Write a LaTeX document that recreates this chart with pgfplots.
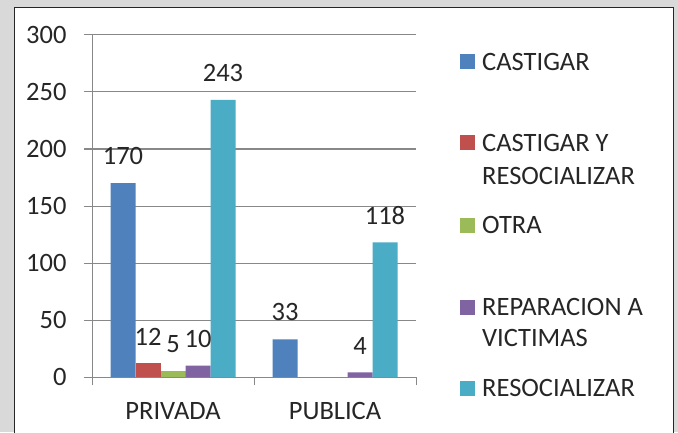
\documentclass[border=0pt]{standalone}
\usepackage{fontspec}
\setmainfont{Carlito}
\usepackage{pgfplots}
\pgfplotsset{compat=1.18}
\definecolor{cBlue}{HTML}{4F81BD}
\definecolor{cRed}{HTML}{C0504D}
\definecolor{cGreen}{HTML}{9BBB59}
\definecolor{cPurple}{HTML}{8064A2}
\definecolor{cCyan}{HTML}{4BACC6}
\definecolor{bggrey}{HTML}{D9D9D9}
\definecolor{axgrey}{HTML}{888888}
\definecolor{txt}{HTML}{262626}
\newcommand\bigf{\fontsize{26.5}{33}\selectfont}
\begin{document}
\begin{tikzpicture}
\useasboundingbox (0pt,0pt) rectangle (678pt,432pt);
\fill[bggrey] (0pt,0pt) rectangle (678pt,432pt);
\filldraw[fill=white, draw=black!85, line width=1pt] (14pt,-10pt) rectangle (673pt,424pt);
\begin{axis}[
  at={(92pt,55pt)}, anchor=south west,
  scale only axis, width=324pt, height=342pt,
  xmin=-0.5, xmax=1.5, ymin=0, ymax=300,
  ybar=0pt, bar width=25pt,
  /pgf/number format/assume math mode=true,
  axis x line*=bottom, axis y line*=left,
  axis line style={draw=axgrey, line width=1pt, -},
  ytick={0,50,...,300},
  ymajorgrids, major grid style={draw=axgrey, line width=1pt},
  tick align=outside, major tick length=8pt,
  ytick style={draw=axgrey, line width=1pt},
  xtick={-0.5,0.5,1.5}, xticklabels={},
  xtick style={draw=axgrey, line width=1pt},
  extra x ticks={0,1}, extra x tick labels={PRIVADA,PUBLICA},
  extra x tick style={major tick length=0pt, grid=none},
  tick label style={font=\bigf, text=txt},
  xticklabel style={yshift=-22pt},
  yticklabel style={xshift=-14pt},
  nodes near coords,
  every node near coord/.append style={font=\bigf, text=txt, anchor=south, inner sep=0pt, yshift=18pt},
]
\addplot[fill=cBlue, draw=none] coordinates {(0,170) (1,33)};
\addplot[fill=cRed, draw=none] coordinates {(0,12)};
\addplot[fill=cGreen, draw=none] coordinates {(0,5)};
\addplot[fill=cPurple, draw=none] coordinates {(0,10) (1,4)};
\addplot[fill=cCyan, draw=none] coordinates {(0,243) (1,118)};
\end{axis}
% legend
\begin{scope}[every node/.style={font=\bigf, text=txt, anchor=base west, inner sep=0pt}]
\fill[cBlue]   (460pt,362.5pt) rectangle (475pt,377.5pt);
\node at (482pt,361.7pt) {CASTIGAR};
\fill[cRed]    (460pt,281.5pt) rectangle (475pt,296.5pt);
\node at (482pt,280.7pt) {CASTIGAR Y};
\node at (482pt,247.7pt) {RESOCIALIZAR};
\fill[cGreen]  (460pt,199.5pt) rectangle (475pt,214.5pt);
\node at (482pt,198.7pt) {OTRA};
\fill[cPurple] (460pt,117.5pt) rectangle (475pt,132.5pt);
\node at (482pt,116.7pt) {REPARACION A};
\node at (482pt,85.7pt) {VICTIMAS};
\fill[cCyan]   (460pt,36.5pt) rectangle (475pt,51.5pt);
\node at (482pt,35.7pt) {RESOCIALIZAR};
\end{scope}
\end{tikzpicture}
\end{document}
